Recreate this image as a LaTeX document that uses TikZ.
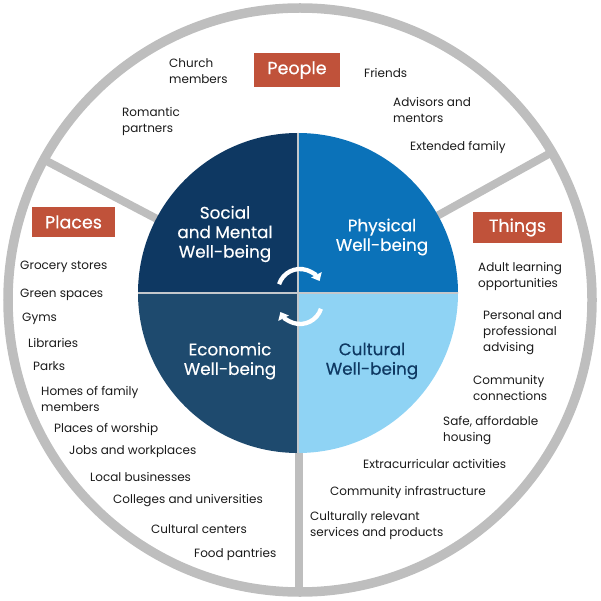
\documentclass[tikz,border=0pt]{standalone}
\usepackage{fontspec}
\setmainfont{Poppins}
\newfontfamily\medfont{Poppins}[FakeBold=0.4]
\usetikzlibrary{arrows.meta}
\definecolor{ringgray}{HTML}{BEBEBE}
\definecolor{sepgray}{HTML}{C4C8CC}
\definecolor{socialc}{HTML}{0E3862}
\definecolor{physc}{HTML}{0B72B9}
\definecolor{econc}{HTML}{1E4A6E}
\definecolor{cultc}{HTML}{8FD3F4}
\definecolor{boxc}{HTML}{C0523A}
\definecolor{txt}{HTML}{1A1A1A}
\tikzset{
  item/.style={anchor=west,align=left,inner sep=0pt,font=\fontsize{12}{16}\selectfont,text=txt},
  quad/.style={align=center,inner sep=0pt,font=\medfont\fontsize{16.8}{19.5}\selectfont,text=white},
  tag/.style={fill=boxc,text=white,inner sep=0pt,font=\medfont\fontsize{17.5}{18}\selectfont},
  divider/.style={draw=ringgray,line width=8pt},
  cyc/.style={draw=white,line width=4.3pt,-{Triangle[length=7pt,width=11.5pt]}}
}
\begin{document}
\begin{tikzpicture}[x=1pt,y=-1pt]
\useasboundingbox (0,0) rectangle (600,601);
\coordinate (C) at (298,293);
\coordinate (R) at (300,300);
% dividers
\draw[divider] ([shift={(207.7:150)}]C) coordinate (l1) -- ([shift={(207.7:288)}]C) coordinate (l2);
\draw[divider] ([shift={(331:150)}]C) coordinate (r1) -- ([shift={(331:288)}]C) coordinate (r2);
\coordinate (b1) at (299,440);
\coordinate (b2) at (299,592);
\draw[divider] (b1) -- (b2);
% outer ring
\draw[draw=ringgray,line width=9.5pt] (R) circle[radius=292];
% quadrants
\fill[socialc] (C) -- ([shift={(180:160)}]C) arc[start angle=180,end angle=270,radius=160] -- cycle;
\fill[physc] (C) -- ([shift={(270:160)}]C) arc[start angle=270,end angle=360,radius=160] -- cycle;
\fill[cultc] (C) -- ([shift={(0:160)}]C) arc[start angle=0,end angle=90,radius=160] -- cycle;
\fill[econc] (C) -- ([shift={(90:160)}]C) arc[start angle=90,end angle=180,radius=160] -- cycle;
\coordinate (hl) at (138,293);
\coordinate (hr) at (458,293);
\coordinate (vt) at (298,133);
\coordinate (vb) at (298,453);
\draw[sepgray,line width=2.5pt] (hl) -- (hr);
\draw[sepgray,line width=2.5pt] (vt) -- (vb);
% cycle arrows
\coordinate (U) at (300,291);
\coordinate (D) at (300,302);
\draw[cyc] ([shift={(198:22)}]U) arc[start angle=198,end angle=333,radius=22];
\draw[cyc] ([shift={(18:22)}]D) arc[start angle=18,end angle=153,radius=22];
% quadrant labels
\node[quad] (social) at (225,234) {Social\\and Mental\\Well-being};
\node[quad] (phys) at (382,237) {Physical\\Well-being};
\node[quad] (econ) at (230,361) {Economic\\Well-being};
\node[quad,text=socialc] (cult) at (372,361) {Cultural\\Well-being};
% tags
\node[tag,minimum width=86pt,minimum height=34pt] (people) at (297,70) {People};
\node[tag,minimum width=83pt,minimum height=30pt] (places) at (73.5,222) {Places};
\node[tag,minimum width=89pt,minimum height=31pt] (things) at (517.5,227.5) {Things};
% people items
\node[item] (p1) at (169,71) {Church\\members};
\node[item] (p2) at (122,121) {Romantic\\partners};
\node[item] (p3) at (364,73) {Friends};
\node[item] (p4) at (393,110) {Advisors and\\mentors};
\node[item] (p5) at (410,147) {Extended family};
% things items
\node[item] (t1) at (478,276) {Adult learning\\opportunities};
\node[item] (t2) at (483,333) {Personal and\\professional\\advising};
\node[item] (t3) at (473,387.5) {Community\\connections};
\node[item] (t4) at (443,430.5) {Safe, affordable\\housing};
\node[item] (t5) at (363,464) {Extracurricular activities};
\node[item] (t6) at (330,492) {Community infrastructure};
\node[item] (t7) at (310,525.5) {Culturally relevant\\services and products};
% places items
\node[item] (s1) at (20,267) {Grocery stores};
\node[item] (s2) at (20,295) {Green spaces};
\node[item] (s3) at (22,319) {Gyms};
\node[item] (s4) at (28,343) {Libraries};
\node[item] (s5) at (33,366) {Parks};
\node[item] (s6) at (41,398.5) {Homes of family\\members};
\node[item] (s7) at (54,429) {Places of worship};
\node[item] (s8) at (69,452) {Jobs and workplaces};
\node[item] (s9) at (90,477) {Local businesses};
\node[item] (s10) at (113,501) {Colleges and universities};
\node[item] (s11) at (151,529) {Cultural centers};
\node[item] (s12) at (194,554) {Food pantries};
\end{tikzpicture}
\end{document}
